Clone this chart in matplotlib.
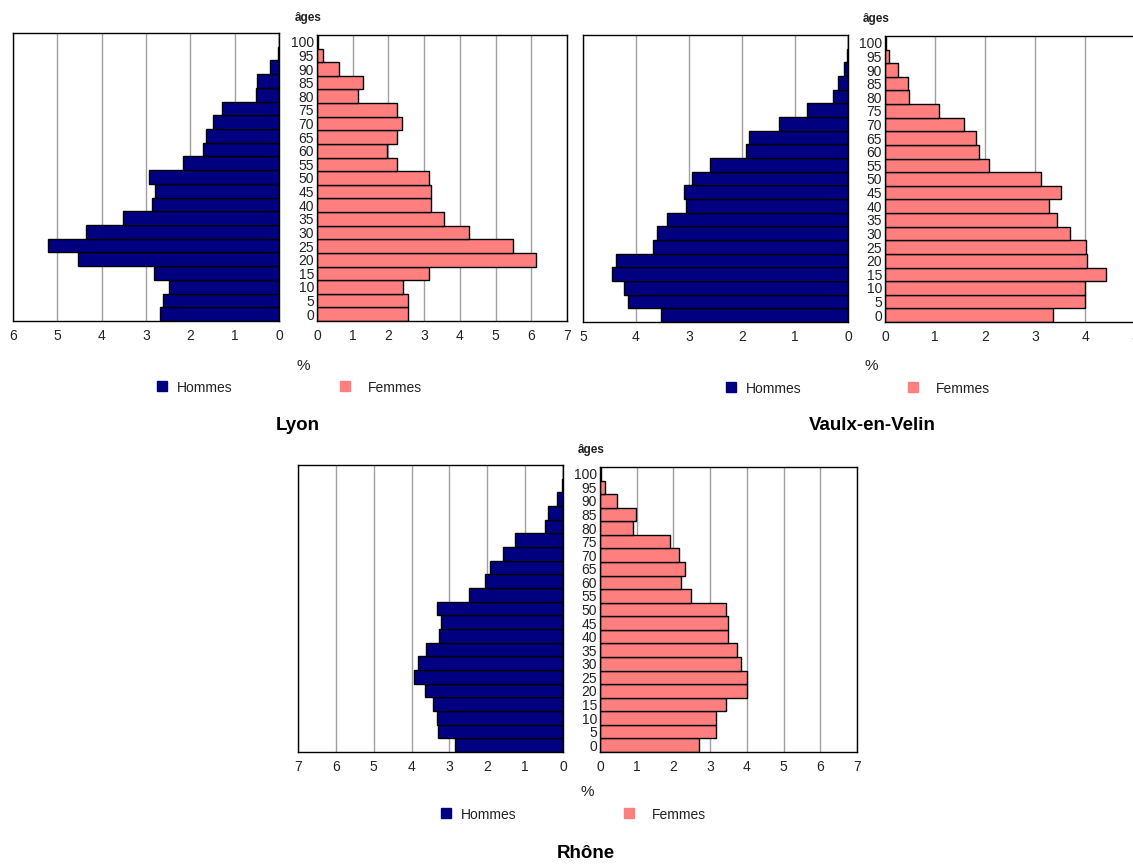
import numpy as np
import matplotlib
matplotlib.use('Agg')
import matplotlib.pyplot as plt
from matplotlib.patches import Rectangle

plt.rcParams['font.family'] = ['Liberation Sans', 'DejaVu Sans']

# Classes d'âges (0 à 100 par pas de 5)
ages = list(range(0, 105, 5))

# Pourcentages (de 0 à 100 ans)
lyon_hommes = [2.68, 2.61, 2.47, 2.82, 4.53, 5.20, 4.35, 3.51, 2.86, 2.79, 2.94,
               2.16, 1.71, 1.65, 1.50, 1.29, 0.52, 0.49, 0.20, 0.03, 0.0]
lyon_femmes = [2.55, 2.55, 2.41, 3.15, 6.13, 5.49, 4.26, 3.55, 3.18, 3.18, 3.15,
               2.25, 1.96, 2.23, 2.37, 2.25, 1.14, 1.29, 0.62, 0.17, 0.02]

vaulx_hommes = [3.53, 4.15, 4.23, 4.45, 4.38, 3.68, 3.61, 3.42, 3.06, 3.10, 2.95,
                2.60, 1.93, 1.87, 1.31, 0.78, 0.28, 0.18, 0.08, 0.02, 0.0]
vaulx_femmes = [3.35, 3.99, 3.99, 4.42, 4.04, 4.01, 3.69, 3.43, 3.27, 3.51, 3.11,
                2.08, 1.87, 1.82, 1.58, 1.08, 0.47, 0.45, 0.26, 0.07, 0.01]

rhone_hommes = [2.84, 3.31, 3.34, 3.44, 3.65, 3.93, 3.82, 3.61, 3.27, 3.23, 3.34,
                2.49, 2.07, 1.94, 1.59, 1.27, 0.47, 0.39, 0.15, 0.03, 0.0]
rhone_femmes = [2.71, 3.17, 3.16, 3.43, 4.00, 4.00, 3.85, 3.72, 3.49, 3.49, 3.43,
                2.49, 2.21, 2.31, 2.15, 1.91, 0.90, 0.98, 0.47, 0.14, 0.03]

BLEU = '#000080'
ROSE = '#ff7f7f'
W, H = 1133, 865


def boite(x0, y0, x1, y1):
    # coordonnées pixels (origine en haut à gauche) -> fraction de figure
    return [x0 / W, 1 - y1 / H, (x1 - x0) / W, (y1 - y0) / H]


def style_axe(ax, xmax, inverse=False):
    ax.set_xlim((xmax, 0) if inverse else (0, xmax))
    ax.set_ylim(-0.5, len(ages) - 0.5)
    ax.set_xticks(range(0, xmax + 1))
    ax.grid(axis='x', color='#a0a0a0', linewidth=1)
    ax.set_axisbelow(True)
    ax.tick_params(length=0, labelsize=10, colors='#222222', pad=6)
    for s in ax.spines.values():
        s.set_linewidth(1.0)
        s.set_color('black')


def pyramide(fig, hommes, femmes, gauche, droite, max_h, max_f,
             titre, pos_titre, pos_pct, legende):
    y = np.arange(len(ages))

    ax_h = fig.add_axes(boite(*gauche))
    ax_h.barh(y, hommes, height=1.0, color=BLEU, edgecolor='black', linewidth=1)
    style_axe(ax_h, max_h, inverse=True)
    ax_h.set_yticks([])

    ax_f = fig.add_axes(boite(*droite))
    ax_f.barh(y, femmes, height=1.0, color=ROSE, edgecolor='black', linewidth=1)
    style_axe(ax_f, max_f)
    ax_f.set_yticks(y)
    ax_f.set_yticklabels([str(a) for a in ages], fontsize=10)
    ax_f.tick_params(axis='y', pad=2)

    fig.text((droite[0] - 22) / W, 1 - (droite[1] - 17) / H, 'âges',
             fontsize=8.5, fontweight='bold', ha='left', va='center', color='#222222')
    fig.text(pos_pct[0] / W, 1 - pos_pct[1] / H, '%', fontsize=11,
             ha='center', va='center', color='#222222')

    # légende manuelle
    (xh, xf, yl) = legende
    fig.add_artist(Rectangle((xh / W, 1 - (yl + 5) / H), 10 / W, 10 / H,
                             transform=fig.transFigure, color=BLEU))
    fig.text((xh + 20) / W, 1 - (yl + 2) / H, 'Hommes', fontsize=10,
             ha='left', va='center', color='#222222')
    fig.add_artist(Rectangle((xf / W, 1 - (yl + 5) / H), 10 / W, 10 / H,
                             transform=fig.transFigure, color=ROSE))
    fig.text((xf + 28) / W, 1 - (yl + 2) / H, 'Femmes', fontsize=10,
             ha='left', va='center', color='#222222')

    fig.text(pos_titre[0] / W, 1 - pos_titre[1] / H, titre, fontsize=13.5,
             fontweight='bold', ha='center', va='center')


fig = plt.figure(figsize=(W / 100, H / 100), dpi=100)

pyramide(fig, lyon_hommes, lyon_femmes,
         (13, 33, 279, 321), (317, 35, 567, 321), 6, 7,
         'Lyon', (298, 425), (303, 366), (157, 340, 386))

pyramide(fig, vaulx_hommes, vaulx_femmes,
         (583, 35, 848, 322), (885, 36, 1135, 322), 5, 5,
         'Vaulx-en-Velin', (872, 425), (871, 366), (726, 908, 387))

pyramide(fig, rhone_hommes, rhone_femmes,
         (298, 465, 563, 752), (600, 467, 857, 752), 7, 7,
         'Rhône', (586, 853), (587, 792), (441, 624, 813))

fig.savefig('out.png', dpi=100)
